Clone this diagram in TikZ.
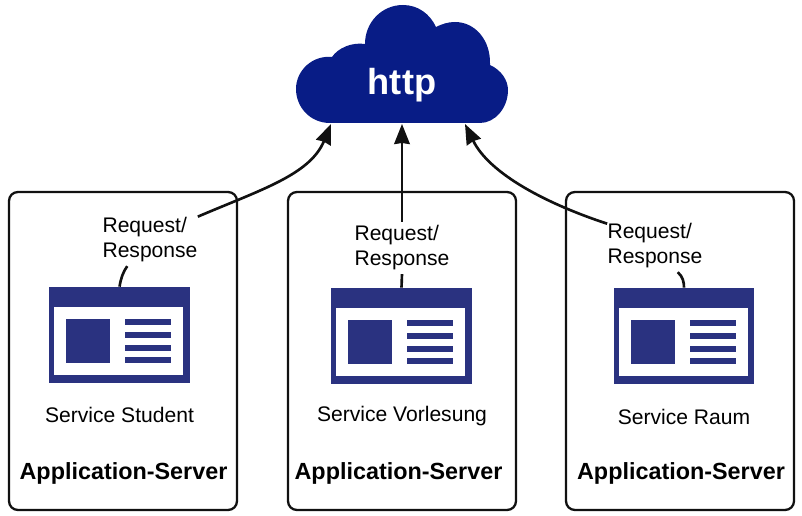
\documentclass[tikz,border=0pt]{standalone}
\usepackage{fontspec}
\setmainfont{Liberation Sans}
\usetikzlibrary{arrows.meta}
\definecolor{cloudblue}{RGB}{8,28,134}
\definecolor{winblue}{RGB}{42,50,128}
\definecolor{edge}{RGB}{17,17,17}
\tikzset{
  server/.style={draw=edge, line width=1.3pt, rounded corners=5pt, minimum width=4.56cm, minimum height=6.36cm},
  window/.style={fill=winblue, inner sep=0pt, minimum width=2.82cm, minimum height=1.92cm},
  reqlabel/.style={align=left, inner xsep=0pt, inner ysep=2pt, font=\fontsize{12}{14.2}\selectfont},
  svclabel/.style={font=\fontsize{12}{14.2}\selectfont},
  srvlabel/.style={font=\fontsize{13.3}{16}\selectfont\bfseries},
  link/.style={draw=edge, line width=1.5pt},
  linkarrow/.style={link, -{Stealth[length=0.4cm, width=0.31cm, inset=0.02cm]}},
}
\begin{document}
\begin{tikzpicture}[x=0.02cm, y=-0.02cm]
        \useasboundingbox (0,0) rectangle (802,516);

        % cloud
        \fill[cloudblue] (330,123) .. controls (310,123) and (296,107) .. (296,89)
            .. controls (296,70) and (313,55) .. (332,57)
            .. controls (338,48) and (352,42) .. (365,44)
            .. controls (365,22) and (382,5) .. (403,5)
            .. controls (418,5) and (430,14) .. (436,27)
            .. controls (442,24) and (448,22) .. (455,22)
            .. controls (475,22) and (491,40) .. (490,65)
            .. controls (501,70) and (508,80) .. (508,90)
            .. controls (508,108) and (495,123) .. (480,123) -- cycle;
        \node (http) at (402,85) [text=white, font=\fontsize{20.6}{22}\selectfont\bfseries] {http};
        \coordinate (cloudL) at (331,124);
        \coordinate (cloudM) at (402,124);
        \coordinate (cloudR) at (465,124);

        % servers
        \node (srv1) at (123,351) [server] {};
        \node (srv2) at (402,351) [server] {};
        \node (srv3) at (680,351) [server] {};

        % service windows
        \foreach \n/\x/\y in {1/49/287, 2/331/288, 3/613.5/288} {
            \begin{scope}[shift={(\x,\y)}]
                \node (win\n) at (70.5,48) [window] {};
                \fill[white] (5,20) rectangle (134,88);
                \fill[winblue] (17,32) rectangle (61,76);
                \foreach \l in {32,45,58,70}
                    \fill[winblue] (76,\l) rectangle (122,\l+6);
            \end{scope}
        }

        \node (req1) at (150,240) [reqlabel] {Request/\\Response};
        \node (req2) at (402,248) [reqlabel] {Request/\\Response};
        \node (req3) at (655,246) [reqlabel] {Request/\\Response};

        \node (svc1) at (119.5,415) [svclabel] {Service Student};
        \node (svc2) at (402,416) [svclabel] {Service Vorlesung};
        \node (svc3) at (684,417) [svclabel] {Service Raum};

        \node (app1) at (123.5,473) [srvlabel] {Application-Server};
        \node (app2) at (398.5,473) [srvlabel] {Application-Server};
        \node (app3) at (681,473) [srvlabel] {Application-Server};

        \draw[link] (win1.north) .. controls (121,278) and (123,272) .. (req1.229);
        \draw[linkarrow] (req1.26) .. controls (260,190) and (310,175) .. (cloudL);
        \draw[link] (win2.north) -- (req2.south);
        \draw[linkarrow] (req2.north) -- (cloudM);
        \draw[link] (win3.north) .. controls (684,282) and (683,277) .. (req3.311);
        \draw[linkarrow] (req3.155) .. controls (550,205) and (490,175) .. (cloudR);
    \end{tikzpicture}
\end{document}
